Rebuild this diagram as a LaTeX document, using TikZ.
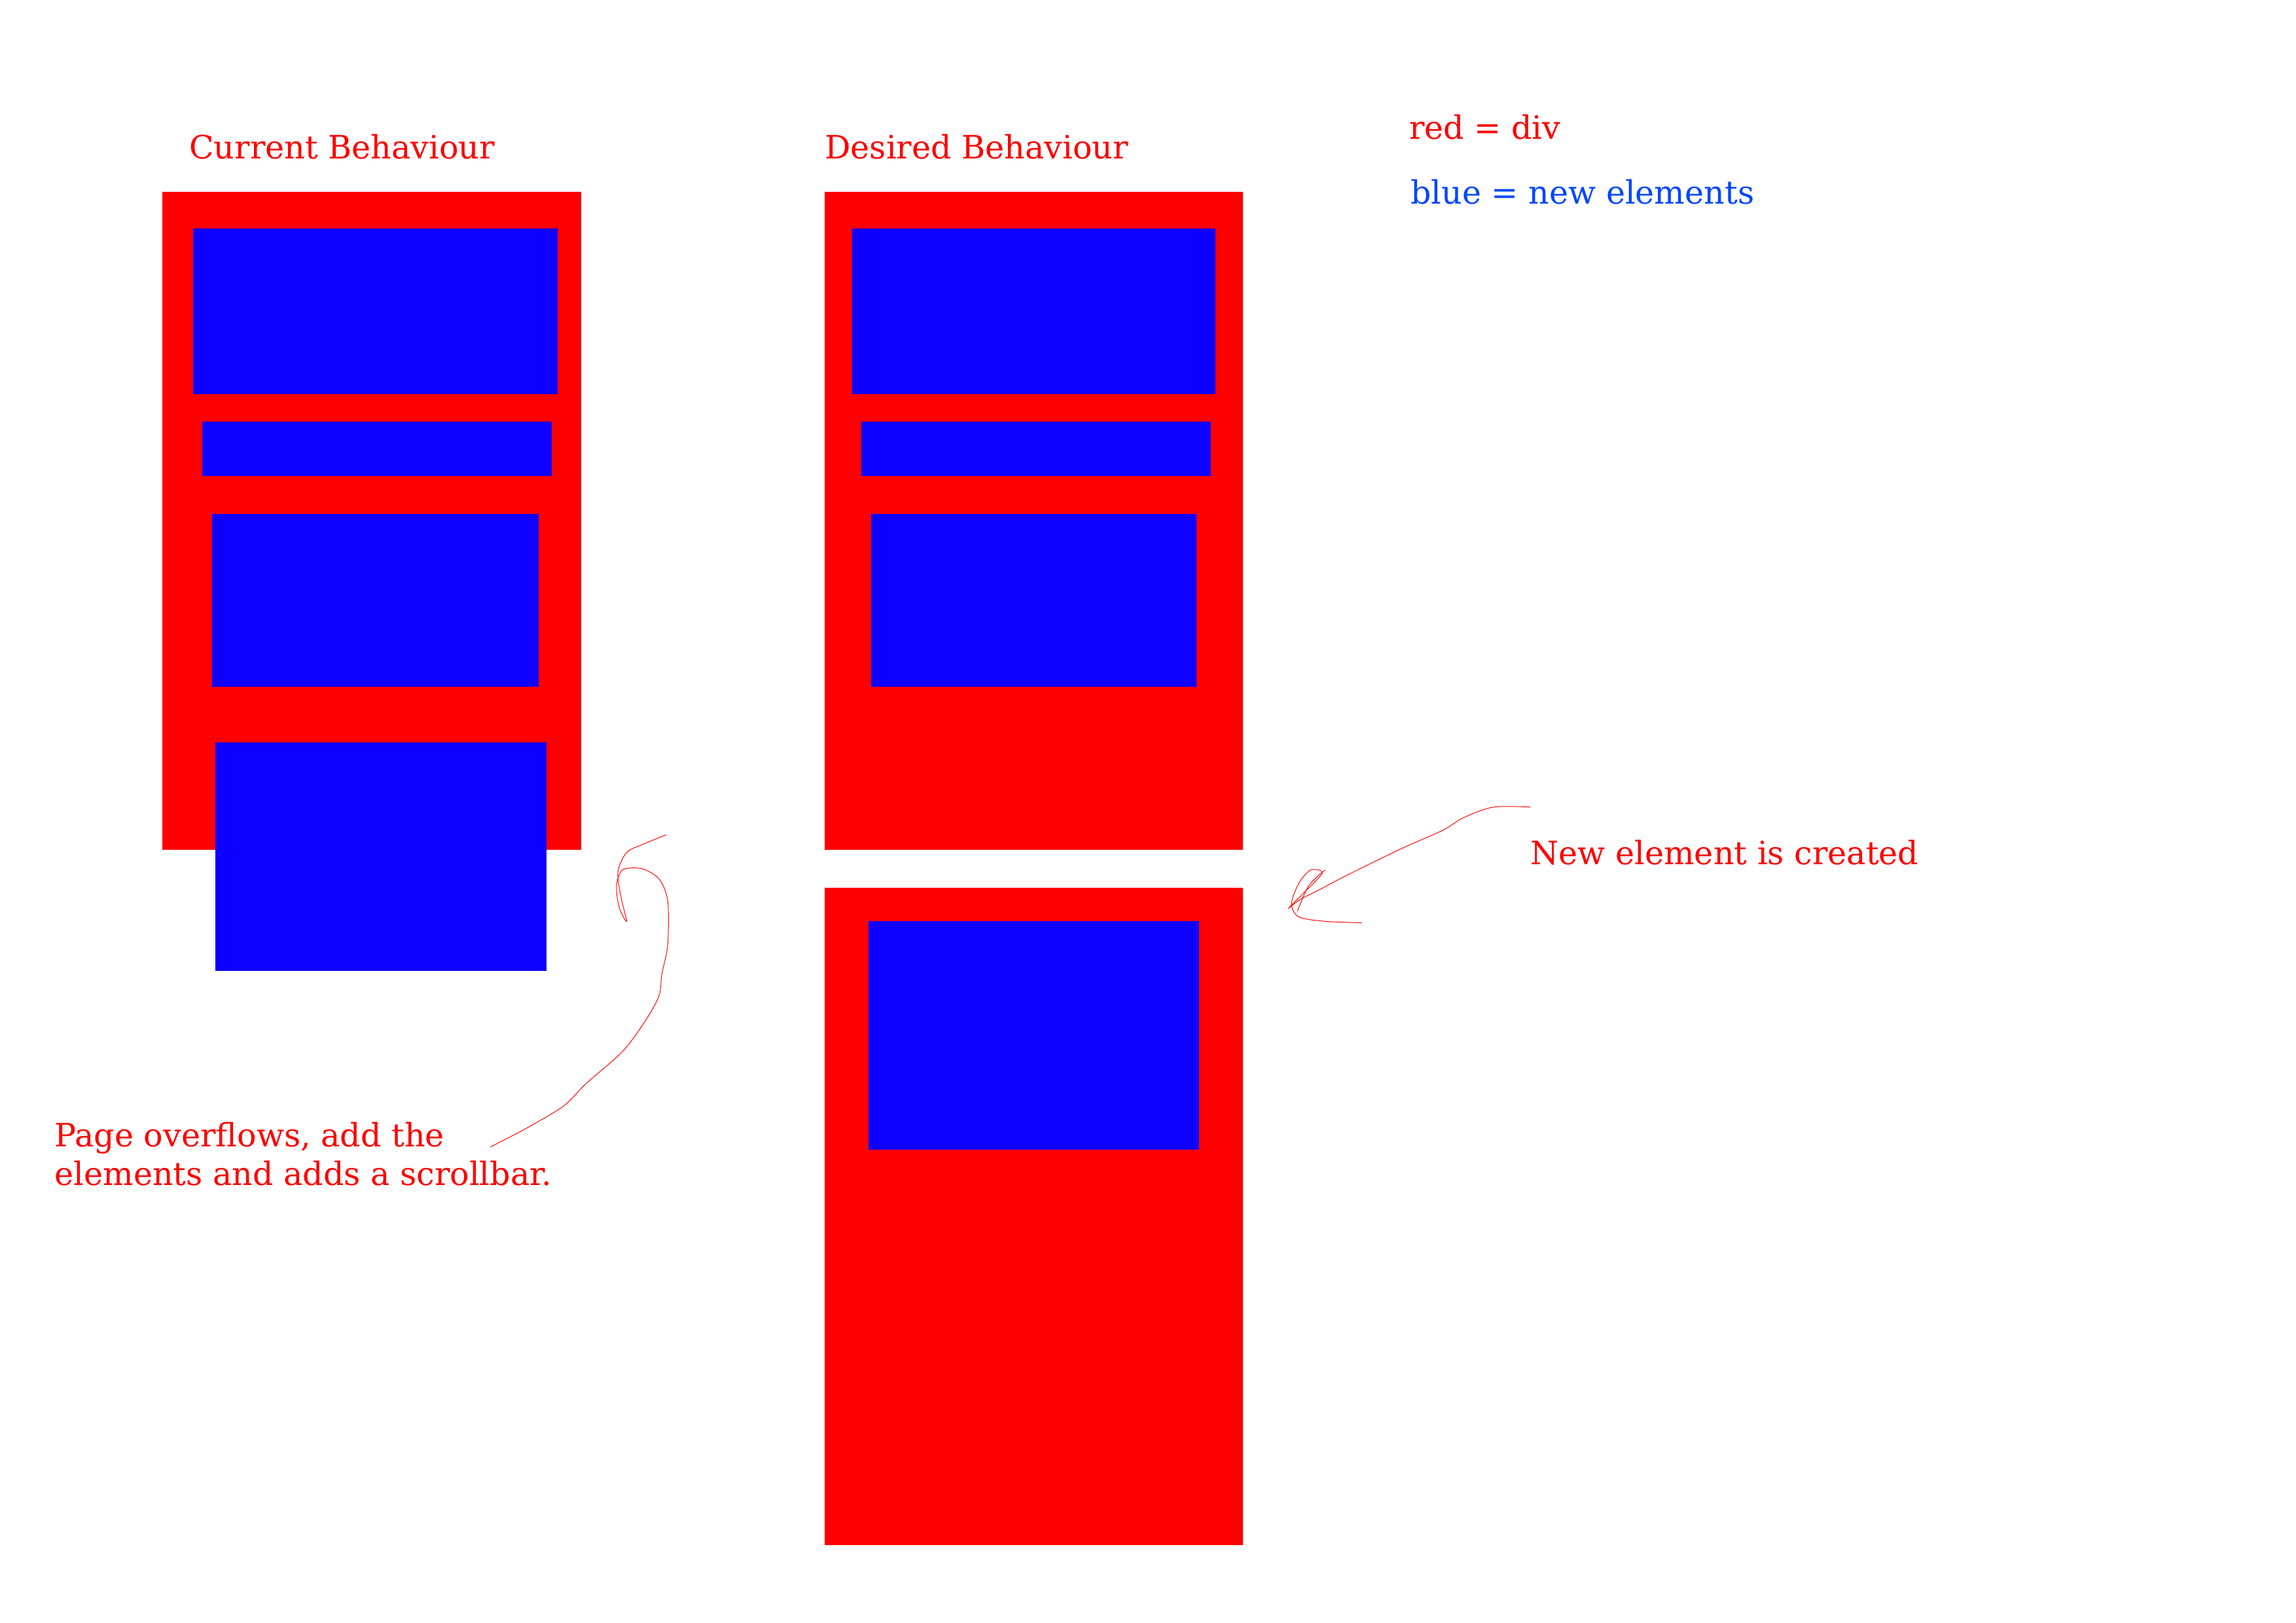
\documentclass[tikz,border=0pt]{standalone}
\usepackage{fontspec}
\setmainfont{DejaVu Serif}
\definecolor{divred}{RGB}{255,0,0}
\definecolor{elblue}{RGB}{13,0,255}
\definecolor{legblue}{RGB}{0,70,255}
\tikzset{divbox/.style={fill=divred,draw=none},elbox/.style={fill=elblue,draw=none},
lbl/.style={text=divred,font=\fontsize{12.5}{15}\selectfont,anchor=west,inner sep=0pt,align=left},
hand/.style={draw=divred,line width=0.25pt}}
\begin{document}
\begin{tikzpicture}[x=0.2mm,y=-0.2mm]
\useasboundingbox[fill=white] (0,0) rectangle (1568,1108);
% left
\fill[divbox] (111,131) rectangle (397,580);
\fill[elbox] (132,156) rectangle (381,269);
\fill[elbox] (138,288) rectangle (377,325);
\fill[elbox] (145,351) rectangle (368,469);
\fill[elbox] (147,507) rectangle (373,663);
% middle top
\fill[divbox] (563,131) rectangle (849,580);
\fill[elbox] (582,156) rectangle (830,269);
\fill[elbox] (588,288) rectangle (827,325);
\fill[elbox] (595,351) rectangle (817,469);
% middle bottom
\fill[divbox] (563,606) rectangle (849,1055);
\fill[elbox] (593,629) rectangle (819,785);
% texts
\node[lbl] (cur) at (129,100) {Current Behaviour};
\node[lbl] (des) at (563,100) {Desired Behaviour};
\node[lbl] (red) at (962,87) {red = div};
\node[lbl,text=legblue] (blue) at (963,131) {blue = new elements};
\node[lbl] (new) at (1045,582) {New element is created};
\node[lbl,anchor=north west] (page) at (37,766) {Page overflows, add the\\elements and adds a scrollbar.};
% hand-drawn curves
\draw[hand] plot[smooth] coordinates {(335,783) (360,770) (385,755) (400,740) (425,718) (440,698) (450,680) (452,665) (456,645) (456,615) (450,600) (438,593) (425,594) (421,605) (423,620) (428,629) (424,612) (422,595) (428,582) (440,576) (455,570)};
\draw[hand] plot[smooth] coordinates {(1045,551) (1020,551) (1000,558) (985,567) (960,578) (935,590) (915,600) (900,608) (888,614) (880,620) (890,610) (903,596) (895,594) (887,603) (882,617) (887,626) (905,629) (930,630)};
\draw[hand] plot[smooth] coordinates {(886,622) (893,606) (900,598) (905,594)};
\end{tikzpicture}
\end{document}
